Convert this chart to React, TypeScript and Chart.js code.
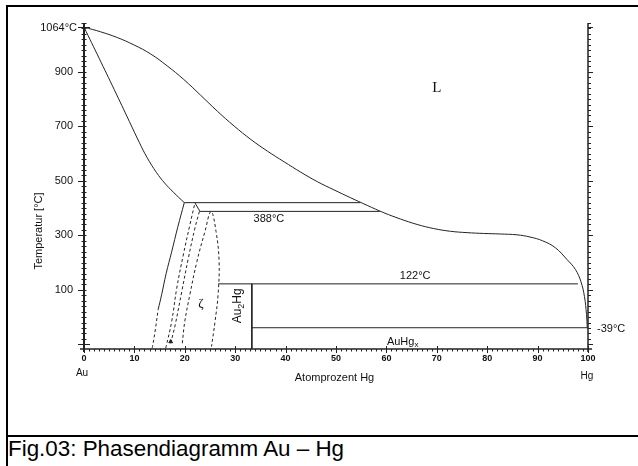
import React, { useEffect, useRef } from 'react';
import { Chart, registerables } from 'chart.js';

Chart.register(...registerables);

// ---- axis ranges & ticks ----
const X_MIN = 0;
const X_MAX = 100;
const Y_MIN = -117;
const Y_MAX = 1083;
const xTickLabels = [0, 10, 20, 30, 40, 50, 60, 70, 80, 90, 100];
const xMinorStep = 1;
const yTickLabels = [100, 300, 500, 700, 900];
const yUnlabeledMajor = [-100];
const yMinorStep = 20;
const yMinorFrom = -100;
const yMinorTo = 1080;
const meltAu = 1064;
const meltHg = -39;

// ---- phase boundaries (x = at.% Hg, T = °C) ----
const liquidusX = [0, 3.3, 6.6, 9.9, 13.2, 16.5, 19.8, 23.1, 26.5, 29.8, 33.1, 36.4, 39.7, 43, 46.3, 49.6, 52.9, 56.2, 59.5, 62.8, 66.1, 69.4, 72.7, 76, 79.3, 82.6, 85.9, 88.5, 91, 93.5, 95.8, 97.5, 98.6, 99.3, 99.7, 99.85];
const liquidusT = [1064, 1047, 1026, 999, 966, 922, 872, 815, 755, 701, 652, 609, 570, 532, 497, 467, 438, 410, 383, 360, 340, 325, 315, 310, 307, 305, 302, 294, 280, 255, 212, 175, 130, 75, 10, -39];

const solidusX = [0, 3, 6, 9, 11, 12.5, 14.4, 16, 17.7, 19.9];
const solidusT = [1064, 950, 835, 718, 640, 586, 530, 492, 459, 420];

const leftBoundX = [14.7, 15.4, 16.3, 17.4, 18.6, 19.9];
const leftBoundT = [27, 82, 160, 240, 330, 420];
const leftDashX = [13.5, 13.6, 14.2, 14.7];
const leftDashT = [-114, -108, -40, 27];

const dashAX = [16.2, 16.3, 17.4, 18.4, 19.7, 21.0, 22.0];
const dashAT = [-114, -108, -16, 106, 228, 338, 418];
const dashBX = [17.2, 18.1, 19.4, 20.7, 22.0, 22.9];
const dashBT = [-96, -28, 94, 216, 326, 388];
const zetaDomeX = [19.5, 20.0, 21.0, 22.4, 24.0, 25.2, 26.2, 26.8, 26.6, 26.0, 25.3];
const zetaDomeT = [-96, -16, 82, 204, 314, 387, 314, 204, 82, -16, -108];

const eutecticX = [19.9, 54.8];
const eutecticT = [420, 420];
const stepX = [22.0, 23.0];
const stepT = [420, 388];
const peritectic388X = [23.0, 58.7];
const peritectic388T = [388, 388];
const peritectic122X = [26.6, 98.0];
const peritectic122T = [122, 122];
const au2hgX = [33.3, 33.3];
const au2hgT = [122, -117];
const line39X = [33.3, 100];
const line39T = [-39, -39];
const arrowX = [17.2];
const arrowT = [-90];

const LINE = '#222';
const SANS = '"Liberation Sans", Arial, Helvetica, sans-serif';
const SERIF = '"Liberation Serif", "Times New Roman", serif';

const pts = (xs: number[], ts: number[]) => xs.map((x, i) => ({ x, y: ts[i] }));

const solid = (label: string, xs: number[], ts: number[], mode: 'mono' | 'tension' | 'straight') => ({
  label,
  data: pts(xs, ts),
  showLine: true,
  borderColor: LINE,
  backgroundColor: LINE,
  borderWidth: 1,
  pointRadius: 0,
  fill: false,
  tension: mode === 'tension' ? 0.4 : 0,
  cubicInterpolationMode: mode === 'mono' ? 'monotone' : 'default',
});
const dashed = (label: string, xs: number[], ts: number[], mode: 'mono' | 'tension' | 'straight') => ({
  ...solid(label, xs, ts, mode),
  borderDash: [3, 2.5],
});

const axesPlugin = {
  id: 'phaseAxes',
  afterDraw(chart: any) {
    const { ctx } = chart;
    const xs = chart.scales.x;
    const ys = chart.scales.y;
    const px = (v: number) => xs.getPixelForValue(v);
    const py = (v: number) => ys.getPixelForValue(v);
    const x0 = px(X_MIN);
    const x1 = px(X_MAX);
    const yb = py(Y_MIN);
    const yt = py(Y_MAX);
    const seg = (ax: number, ay: number, bx: number, by: number) => {
      ctx.beginPath();
      ctx.moveTo(ax, ay);
      ctx.lineTo(bx, by);
      ctx.stroke();
    };
    ctx.save();
    ctx.strokeStyle = LINE;
    ctx.fillStyle = '#111';

    // axis lines
    ctx.lineWidth = 2;
    seg(x0, yt + 1, x0, yb + 3);
    ctx.lineWidth = 1.5;
    seg(x1, yt + 1, x1, yb + 3);
    seg(x0 - 4, yb, x1 + 4, yb);

    // y minor ticks
    ctx.lineWidth = 1;
    for (let t = yMinorFrom; t <= yMinorTo; t += yMinorStep) {
      const y = Math.round(py(t)) + 0.5;
      seg(x0 - 2.5, y, x0 + 2.5, y);
      seg(x1, y, x1 + 3, y);
    }
    // y major ticks
    for (const t of yTickLabels) {
      const y = Math.round(py(t)) + 0.5;
      seg(x0 - 6, y, x0, y);
      seg(x1, y, x1 + 5, y);
    }
    for (const t of [...yUnlabeledMajor, meltAu]) {
      const y = Math.round(py(t)) + 0.5;
      seg(x0 - 6, y, x0 + 6, y);
      seg(x1, y, x1 + 5, y);
    }
    // x minor ticks
    for (let v = X_MIN; v <= X_MAX; v += xMinorStep) {
      const x = Math.round(px(v)) + 0.5;
      seg(x, yb, x, yb + 2.5);
    }
    for (const v of xTickLabels) {
      const x = Math.round(px(v)) + 0.5;
      seg(x, yb - 3, x, yb + 4);
    }

    // y labels
    ctx.font = `11px ${SANS}`;
    ctx.textAlign = 'right';
    ctx.textBaseline = 'middle';
    for (const t of yTickLabels) ctx.fillText(String(t), x0 - 11, py(t));
    ctx.fillText(`${meltAu}°C`, x0 - 7, py(meltAu) + 1);
    ctx.textAlign = 'left';
    ctx.fillText(`${meltHg}°C`, x1 + 9, py(meltHg) + 1);

    // x labels
    ctx.font = `bold 9px ${SANS}`;
    ctx.textAlign = 'center';
    for (const v of xTickLabels) ctx.fillText(String(v), px(v), yb + 10);
    ctx.font = `10px ${SANS}`;
    ctx.fillText('Au', px(X_MIN) - 2, yb + 24);
    ctx.fillText('Hg', px(X_MAX) - 1, yb + 27);
    ctx.font = `11px ${SANS}`;
    ctx.fillText('Atomprozent Hg', px(49.7), yb + 29);

    // y title
    ctx.save();
    ctx.translate(x0 - 45, py(316));
    ctx.rotate(-Math.PI / 2);
    ctx.textAlign = 'center';
    ctx.fillText('Temperatur [°C]', 0, 0);
    ctx.restore();

    // in-plot labels
    ctx.font = `11px ${SANS}`;
    ctx.textAlign = 'center';
    ctx.fillText('388°C', px(36.7), py(360));
    ctx.fillText('122°C', px(65.7), py(151));

    // AuHg_x
    ctx.textAlign = 'left';
    const ax = px(60.1);
    const ay = py(-89.7);
    ctx.font = `11px ${SANS}`;
    ctx.fillText('AuHg', ax, ay);
    const w1 = ctx.measureText('AuHg').width;
    ctx.font = `8px ${SANS}`;
    ctx.fillText('x', ax + w1, ay + 3.5);

    // Au2Hg rotated
    ctx.save();
    ctx.translate(px(30.46), py(41.3));
    ctx.rotate(-Math.PI / 2);
    ctx.font = `12px ${SANS}`;
    const wa = ctx.measureText('Au').width;
    const wh = ctx.measureText('Hg').width;
    ctx.font = `9px ${SANS}`;
    const w2 = ctx.measureText('2').width;
    const total = wa + w2 + wh;
    let cx = -total / 2;
    ctx.textAlign = 'left';
    ctx.font = `12px ${SANS}`;
    ctx.fillText('Au', cx, 0);
    cx += wa;
    ctx.font = `9px ${SANS}`;
    ctx.fillText('2', cx, 3.5);
    cx += w2;
    ctx.font = `12px ${SANS}`;
    ctx.fillText('Hg', cx, 0);
    ctx.restore();

    // L and zeta
    ctx.textAlign = 'center';
    ctx.font = `15px ${SERIF}`;
    ctx.fillText('L', px(70), py(840));
    ctx.font = `13px ${SERIF}`;
    ctx.fillText('ζ', px(23.2), py(51));

    ctx.restore();
  },
};

export default function App() {
  const ref = useRef<HTMLCanvasElement | null>(null);
  useEffect(() => {
    if (!ref.current) return;
    const chart = new Chart(ref.current, {
      type: 'scatter',
      data: {
        datasets: [
          solid('Liquidus', liquidusX, liquidusT, 'tension'),
          solid('Solidus', solidusX, solidusT, 'tension'),
          solid('Grenze', leftBoundX, leftBoundT, 'tension'),
          dashed('Grenze (unsicher)', leftDashX, leftDashT, 'tension'),
          dashed('A', dashAX, dashAT, 'tension'),
          dashed('B', dashBX, dashBT, 'tension'),
          dashed('ζ', zetaDomeX, zetaDomeT, 'tension'),
          solid('420°C', eutecticX, eutecticT, 'straight'),
          solid('Stufe', stepX, stepT, 'straight'),
          solid('388°C', peritectic388X, peritectic388T, 'straight'),
          solid('122°C', peritectic122X, peritectic122T, 'straight'),
          solid('Au2Hg', au2hgX, au2hgT, 'straight'),
          solid('-39°C', line39X, line39T, 'straight'),
          {
            label: 'Pfeil',
            data: pts(arrowX, arrowT),
            showLine: false,
            pointStyle: 'triangle',
            pointRadius: 2.2,
            backgroundColor: LINE,
            borderColor: LINE,
            borderWidth: 1,
          },
        ] as any,
      },
      options: {
        animation: false,
        responsive: false,
        maintainAspectRatio: false,
        layout: { padding: { left: 84, right: 50, top: 22, bottom: 87 } },
        plugins: { legend: { display: false }, tooltip: { enabled: false } },
        scales: {
          x: { type: 'linear', min: X_MIN, max: X_MAX, display: false },
          y: { type: 'linear', min: Y_MIN, max: Y_MAX, display: false },
        },
      },
      plugins: [axesPlugin],
    });
    return () => chart.destroy();
  }, []);

  const bar = (s: React.CSSProperties): React.CSSProperties => ({ position: 'absolute', background: '#000', ...s });

  return (
    <div style={{ position: 'absolute', left: 0, top: 0, width: 638, height: 466, overflow: 'hidden', background: '#fff' }}>
      <div style={bar({ left: 6, top: 5, width: 632, height: 2 })} />
      <div style={bar({ left: 6, top: 5, width: 2, height: 461 })} />
      <div style={bar({ left: 6, top: 435, width: 632, height: 2 })} />
      <canvas ref={ref} width={638} height={436} style={{ position: 'absolute', left: 0, top: 0, width: 638, height: 436 }} />
      <div
        style={{
          position: 'absolute',
          left: 8,
          top: 436,
          fontFamily: SANS,
          fontSize: 22.4,
          lineHeight: '25px',
          color: '#000',
          whiteSpace: 'nowrap',
        }}
      >
        Fig.03: Phasendiagramm Au – Hg
      </div>
    </div>
  );
}
